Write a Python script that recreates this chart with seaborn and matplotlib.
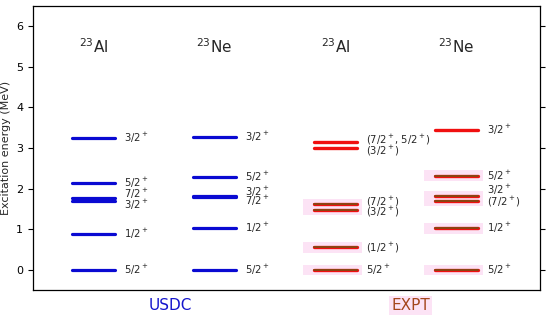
import numpy as np
import pandas as pd
import matplotlib
matplotlib.use("Agg")
import matplotlib.pyplot as plt
import seaborn as sns

sns.set_theme(style="ticks")
plt.rcParams['font.family'] = ['DejaVu Sans']

############### Dados ####################
columns = ["USDC Al", "USDC Ne", "EXPT Al", "EXPT Ne"]
nuclei = [r"$^{23}$Al", r"$^{23}$Ne", r"$^{23}$Al", r"$^{23}$Ne"]

usdc_al_E = [0.0, 0.89, 1.69, 1.77, 2.13, 3.24]
usdc_al_J = [r"5/2$^+$", r"1/2$^+$", r"3/2$^+$", r"7/2$^+$", r"5/2$^+$", r"3/2$^+$"]

usdc_ne_E = [0.0, 1.03, 1.79, 1.82, 2.29, 3.28]
usdc_ne_J = [r"5/2$^+$", r"1/2$^+$", r"7/2$^+$", r"3/2$^+$", r"5/2$^+$", r"3/2$^+$"]

expt_al_E = [0.0, 0.55, 1.48, 1.61, 3.00, 3.14]
expt_al_J = [r"5/2$^+$", r"(1/2$^+$)", r"(3/2$^+$)", r"(7/2$^+$)", r"(3/2$^+$)", r"(7/2$^+$, 5/2$^+$)"]

expt_ne_E = [0.0, 1.02, 1.70, 1.82, 2.32, 3.44]
expt_ne_J = [r"5/2$^+$", r"1/2$^+$", r"(7/2$^+$)", r"3/2$^+$", r"5/2$^+$", r"3/2$^+$"]

# niveis experimentais conhecidos (fundo rosa, linha marrom) vs. tentativos (vermelho)
expt_al_known = [True, True, True, True, False, False]
expt_ne_known = [True, True, True, True, True, False]

# deslocamento vertical dos rotulos quando os niveis estao proximos
label_shift = {
    ("USDC Al", 2): -0.08, ("USDC Al", 3): 0.10,
    ("USDC Ne", 2): -0.09, ("USDC Ne", 3): 0.11,
    ("EXPT Al", 2): -0.06, ("EXPT Al", 3): 0.05,
    ("EXPT Al", 4): -0.07, ("EXPT Al", 5): 0.06,
    ("EXPT Ne", 2): -0.04, ("EXPT Ne", 3): 0.14,
}

levels = {
    "USDC Al": (usdc_al_E, usdc_al_J, None),
    "USDC Ne": (usdc_ne_E, usdc_ne_J, None),
    "EXPT Al": (expt_al_E, expt_al_J, expt_al_known),
    "EXPT Ne": (expt_ne_E, expt_ne_J, expt_ne_known),
}

############### Tabela longa para o seaborn ####################
half = 0.18
rows = []
for i, col in enumerate(columns):
    E, J, known = levels[col]
    for k, e in enumerate(E):
        grp = "blue" if known is None else ("brown" if known[k] else "red")
        for x in (i - half, i + half):
            rows.append({"col": col, "lid": "%s_%d" % (col, k), "x": x, "E": e, "grp": grp})
df = pd.DataFrame(rows)

############### Grafico ####################
fig, ax = plt.subplots(figsize=(5.5, 3.15), dpi=100)
fig.subplots_adjust(left=0.06, right=0.982, top=0.981, bottom=0.079)

# fundo rosa dos niveis experimentais
for i, col in enumerate(columns):
    E, J, known = levels[col]
    if known is None:
        continue
    for k, e in enumerate(E):
        if known[k]:
            ax.fill_between([i - half - 0.09, i + half + 0.04], e - 0.13, e + 0.13,
                            color="#fce3f5", lw=0, zorder=1)

blue = df[df.grp == "blue"]
sns.lineplot(data=blue, x="x", y="E", units="lid", estimator=None,
             color="#0a0ad2", lw=2.3, ax=ax, zorder=3)
expt = df[df.grp != "blue"]
sns.lineplot(data=expt, x="x", y="E", units="lid", estimator=None,
             color="#f01010", lw=2.4, ax=ax, zorder=3)
brown = df[df.grp == "brown"]
sns.lineplot(data=brown, x="x", y="E", units="lid", estimator=None,
             color="#8b4513", lw=1.4, ax=ax, zorder=4)

for i, col in enumerate(columns):
    E, J, known = levels[col]
    for k, (e, j) in enumerate(zip(E, J)):
        dy = label_shift.get((col, k), 0.0)
        ax.text(i + half + 0.07, e + dy, j, fontsize=7.2, va="center", ha="left", zorder=5)
    ax.text(i, 5.5, nuclei[i], fontsize=11, ha="center", va="center")

ax.set_xlim(-0.5, 3.69)
ax.set_ylim(-0.5, 6.5)
ax.set_yticks(range(0, 7))
ax.set_xticks([])
ax.set_xlabel("")
ax.set_ylabel("Excitation energy (MeV)", fontsize=8)
ax.tick_params(axis="y", labelsize=8, right=True, direction="out", length=3.5, width=0.8, colors="black")
for s in ax.spines.values():
    s.set_color("black")
    s.set_linewidth(0.9)

fig.text(0.309, 0.03, "USDC", color="#1515cc", fontsize=11, ha="center", va="center")
fig.text(0.747, 0.03, "EXPT", color="#a4461c", fontsize=11, ha="center", va="center",
         bbox=dict(facecolor="#fce3f5", edgecolor="none", pad=1.5))

fig.savefig("out.png", dpi=100)
